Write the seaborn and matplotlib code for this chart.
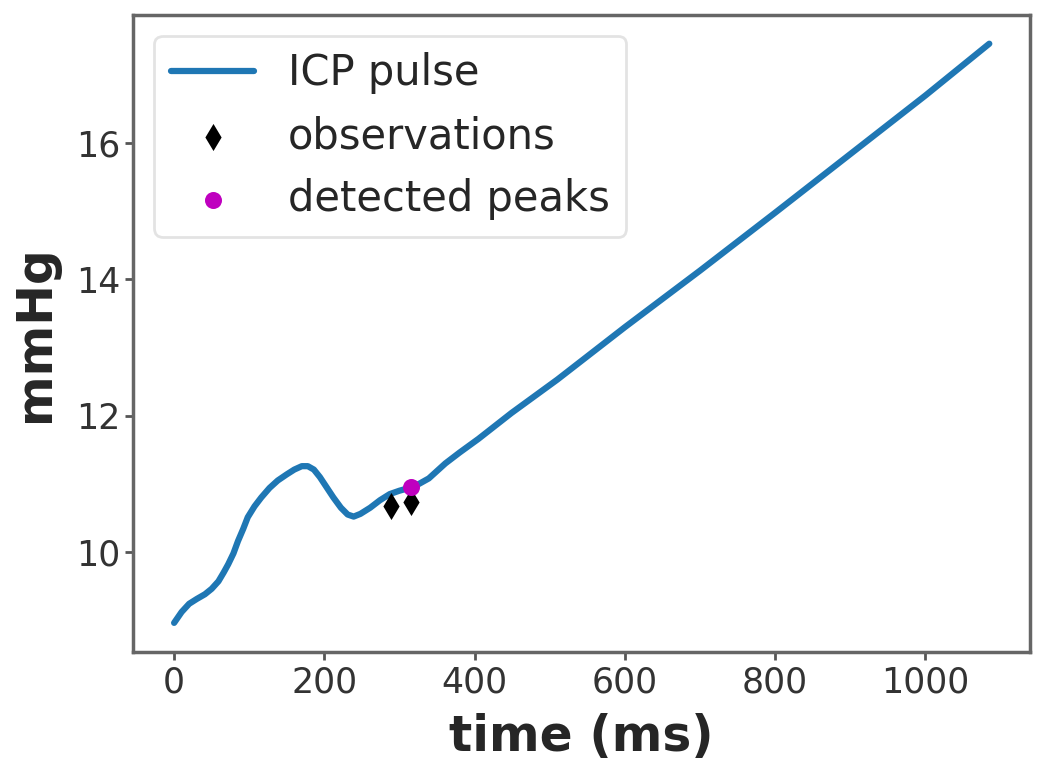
import numpy as np
import pandas as pd
import matplotlib
matplotlib.use("Agg")
import matplotlib.pyplot as plt
import seaborn as sns

# ICP pulse (ms, mmHg)
time_ms = [0, 10, 20, 30, 41, 50, 59, 66, 72, 79, 85, 92, 98, 107, 116, 127, 138, 150,
           160, 170, 178, 186, 194, 203, 212, 222, 231, 239, 248, 261, 274, 287, 300,
           313, 326, 339, 350, 361, 380, 405, 449, 510, 600, 700, 800, 900, 1000, 1085]
icp_mmhg = [8.96, 9.12, 9.24, 9.31, 9.38, 9.46, 9.57, 9.70, 9.82, 9.98, 10.16, 10.34,
            10.51, 10.67, 10.80, 10.94, 11.05, 11.14, 11.21, 11.26, 11.26, 11.21, 11.10,
            10.95, 10.80, 10.65, 10.55, 10.52, 10.56, 10.65, 10.76, 10.85, 10.90, 10.94,
            11.00, 11.08, 11.19, 11.30, 11.46, 11.66, 12.04, 12.53, 13.30, 14.13, 14.98,
            15.84, 16.70, 17.46]

obs_time = [289, 315]
obs_mmhg = [10.68, 10.73]

peak_time = [315]
peak_mmhg = [10.95]

sns.set_style("white")
plt.rcParams['font.family'] = ['DejaVu Sans']

fig, ax = plt.subplots(figsize=(10.5, 7.76), dpi=100)
fig.subplots_adjust(left=0.127, right=0.981, bottom=0.160, top=0.981)

pulse = pd.DataFrame({"t": time_ms, "p": icp_mmhg})
sns.lineplot(data=pulse, x="t", y="p", ax=ax, color="#1f77b4", linewidth=4.5,
             label="ICP pulse", sort=False)
sns.scatterplot(x=obs_time, y=obs_mmhg, ax=ax, color="black", marker="d", s=190,
                edgecolor="black", linewidth=0, label="observations", zorder=3)
sns.scatterplot(x=peak_time, y=peak_mmhg, ax=ax, color="m", marker="o", s=150,
                edgecolor="m", linewidth=0, label="detected peaks", zorder=4)

ax.set_xticks([0, 200, 400, 600, 800, 1000])
ax.set_yticks([10, 12, 14, 16])
ax.tick_params(axis="both", labelsize=25, colors="#555555", labelcolor="#333333",
               direction="out", length=6, width=2, left=True, bottom=True)
for s in ax.spines.values():
    s.set_color("#666666")
    s.set_linewidth(2.5)

ax.set_xlabel("time (ms)", fontsize=35, fontweight="bold", labelpad=10)
ax.set_ylabel("mmHg", fontsize=35, fontweight="bold", labelpad=12)

leg = ax.legend(loc="upper left", fontsize=30, frameon=True, borderaxespad=0.5)
leg.get_frame().set_edgecolor("#dddddd")
leg.get_frame().set_linewidth(2)

fig.savefig("out.png", dpi=100)
